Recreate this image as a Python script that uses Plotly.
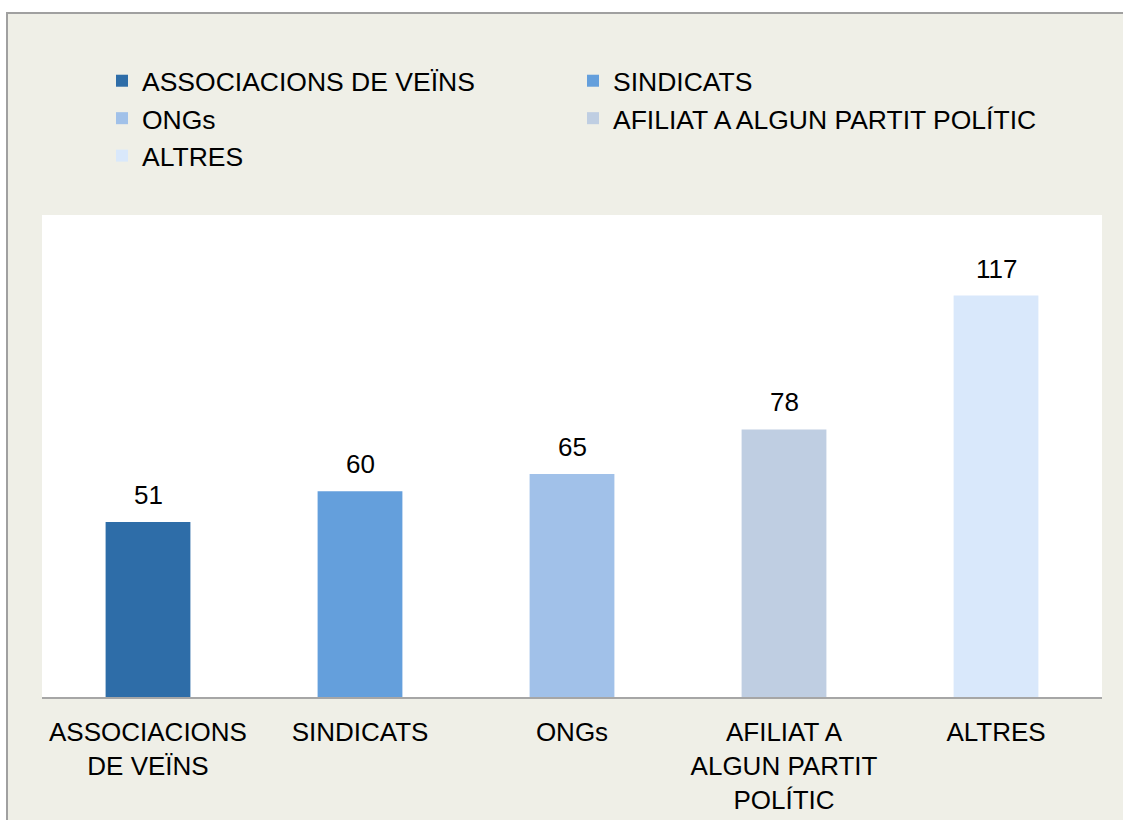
import plotly.graph_objects as go

categories = ["ASSOCIACIONS DE VEÏNS", "SINDICATS", "ONGs",
              "AFILIAT A ALGUN PARTIT POLÍTIC", "ALTRES"]
values = [51, 60, 65, 78, 117]
colors = ["#2E6DA8", "#649FDC", "#A1C1E9", "#BFCEE2", "#D9E8FB"]
tick_labels = ["ASSOCIACIONS<br>DE VEÏNS", "SINDICATS", "ONGs",
               "AFILIAT A<br>ALGUN PARTIT<br>POLÍTIC", "ALTRES"]

W, H = 1123, 820
L, R, T, B = 42, 21, 215, 123
pw, ph = W - L - R, H - T - B


def px_x(x):
    return (x - L) / pw


def px_y(y):
    return (H - B - y) / ph


FONT = "Liberation Sans, Arial, sans-serif"
BEIGE = "#EFEFE7"

fig = go.Figure()
for cat, val, col in zip(categories, values, colors):
    fig.add_trace(go.Bar(
        x=[cat], y=[val], name=cat,
        marker=dict(color=col, line=dict(width=0)),
        width=0.4,
    ))

annotations = [
    dict(x=cat, y=val, xref="x", yref="y", text=str(val),
         showarrow=False, yanchor="bottom", yshift=10,
         font=dict(size=26, color="#000000", family=FONT))
    for cat, val in zip(categories, values)
]

# outer frame: white strips top/left and grey border line
shapes = [
    dict(type="rect", xref="paper", yref="paper",
         x0=px_x(-5), x1=px_x(6), y0=px_y(-5), y1=px_y(H + 10),
         fillcolor="white", line=dict(width=0), layer="above"),
    dict(type="rect", xref="paper", yref="paper",
         x0=px_x(-5), x1=px_x(W + 10), y0=px_y(-5), y1=px_y(12),
         fillcolor="white", line=dict(width=0), layer="above"),
    dict(type="line", xref="paper", yref="paper",
         x0=px_x(7), x1=px_x(7), y0=px_y(12), y1=px_y(H + 10),
         line=dict(color="#A0A0A0", width=2), layer="above"),
    dict(type="line", xref="paper", yref="paper",
         x0=px_x(6), x1=px_x(W + 10), y0=px_y(13), y1=px_y(13),
         line=dict(color="#A0A0A0", width=2), layer="above"),
]

fig.update_layout(
    width=W, height=H,
    margin=dict(l=L, r=R, t=T, b=B, autoexpand=False),
    paper_bgcolor=BEIGE,
    plot_bgcolor="white",
    barmode="overlay",
    font=dict(family=FONT, size=26, color="#000000"),
    showlegend=True,
    legend=dict(
        orientation="h",
        xref="container", yref="container",
        x=102 / W, y=1 - 57 / H,
        xanchor="left", yanchor="top",
        entrywidth=426, entrywidthmode="pixels",
        font=dict(size=26.5, family=FONT, color="#000000"),
        bgcolor="rgba(0,0,0,0)",
        traceorder="normal",
    ),
    xaxis=dict(
        type="category",
        tickvals=categories, ticktext=tick_labels,
        showgrid=False, zeroline=False,
        showline=True, linecolor="#A6A6A6", linewidth=2,
        ticks="", ticklabelstandoff=11, automargin=False,
        tickfont=dict(size=26, family=FONT, color="#000000"),
    ),
    yaxis=dict(
        range=[0, 140.5], visible=False, showgrid=False, zeroline=False,
        automargin=False,
    ),
    annotations=annotations,
    shapes=shapes,
)

fig.write_html(
    "out.html",
    config={"displayModeBar": False},
    post_script="document.body.style.margin='0';"
                "document.body.style.overflow='hidden';",
)
